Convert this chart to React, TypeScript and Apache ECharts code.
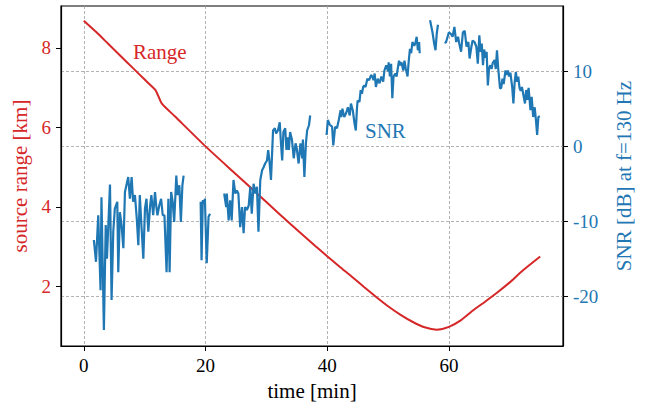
import React, { useEffect, useRef } from "react";
import * as echarts from "echarts";

const xTicks = [0, 20, 40, 60];
const rangeTicks = [2, 4, 6, 8];
const snrTicks = [-20, -10, 0, 10];

const rangeTime = [0, 2, 4, 6, 8, 10, 11.8, 12.8, 15, 20, 25, 27, 30, 34, 38, 42, 44, 46, 48, 50, 52, 54, 56, 58, 60, 62, 64, 66, 68, 70, 72, 75];
const rangeKm = [8.68, 8.4, 8.1, 7.8, 7.5, 7.2, 6.93, 6.6, 6.27, 5.52, 4.82, 4.54, 4.12, 3.56, 3.02, 2.5, 2.25, 1.99, 1.74, 1.5, 1.29, 1.11, 0.97, 0.91, 0.98, 1.15, 1.4, 1.62, 1.85, 2.1, 2.38, 2.75];

const snrTime = [
  1.65, 2.0, 2.37, 2.75, 2.9, 3.3, 3.6, 3.8, 4.3, 4.56, 4.84, 5.1, 5.5, 5.66, 5.93, 6.2, 6.5, 6.76, 7.0, 7.3, 7.57, 7.86, 8.1, 8.4, 8.7, 8.96, 9.2, 9.5, 9.78, 10.05, 10.3, 10.6, 10.9, 11.1, 11.4, 11.7, 11.9, 12.1, 12.4, 12.7, 12.97, 13.25, 13.6, 13.9, 14.1, 14.35, 14.6, 14.85, 15.2, 15.4, 15.7, 15.95, 16.2, 16.4,
  17.8,
  19.2, 19.35, 19.55, 19.8, 19.9, 20.2, 20.5, 20.75,
  22,
  23.07, 23.4, 23.5, 23.8, 24.05, 24.3, 24.6, 24.9, 25.15, 25.4, 25.7, 26.0, 26.26, 26.5, 26.8, 27.1, 27.36, 27.6, 27.9, 28.2, 28.45, 28.7, 29.0, 29.3, 29.55, 29.8, 30.1, 30.3, 30.5, 30.76, 31.1, 31.4, 31.6, 31.9, 32.2, 32.4, 32.6, 32.8, 33.1, 33.3, 33.5, 33.7, 33.9, 34.2, 34.5, 34.8, 35.0, 35.3, 35.6, 35.9, 36.0, 36.25, 36.5, 36.7, 37.0, 37.2,
  38.5,
  39.9, 40.1, 40.4, 40.8, 41.0, 41.3, 41.6, 41.9, 42.2, 42.3, 42.5, 42.8, 43.1, 43.4, 43.7, 43.9, 44.2, 44.5, 44.7, 44.9, 45.0, 45.3, 45.5, 45.7, 45.9, 46.1, 46.3, 46.6, 46.9, 47.2, 47.4, 47.6, 47.8, 48.0, 48.3, 48.6, 48.9, 49.2, 49.4, 49.7, 50.0, 50.1, 50.3, 50.5, 50.7, 50.9, 51.2, 51.4, 51.6, 51.8, 52.0, 52.2, 52.5, 52.7, 52.9, 53.2, 53.4, 53.6, 53.8, 54.0, 54.3, 54.5, 54.7, 54.9, 55.1, 55.2,
  56.0,
  56.9, 57.3, 57.6, 57.8, 58.0, 58.2,
  58.8,
  59.3, 59.5, 60.0, 60.3, 60.6, 60.9, 61.2, 61.5, 61.7, 62.0, 62.3, 62.6, 62.9, 63.2, 63.4, 63.7, 63.9, 64.2, 64.5, 64.75, 65.0, 65.2, 65.4, 65.6, 65.8, 66.0, 66.2, 66.4, 66.6, 66.8, 67.0, 67.2, 67.5, 67.7, 67.9, 68.1, 68.4, 68.6, 68.8, 69.0, 69.3, 69.5, 69.7, 69.9, 70.1, 70.4, 70.6, 70.8, 71.0, 71.2, 71.4, 71.6, 71.8, 72.0, 72.3, 72.5, 72.7, 72.9, 73.1, 73.4, 73.6, 73.85, 74.1, 74.3, 74.5, 74.7, 74.95,
];
const snrDb = [
  -12.5, -15.4, -9.2, -19.2, -6.8, -24.5, -10.5, -15.0, -5.1, -20.5, -11.4, -8.3, -7.4, -16.8, -8.8, -10.5, -13.6, -6.1, -5.2, -4.1, -7.0, -4.1, -7.4, -6.5, -9.6, -13.2, -6.5, -11.0, -15.0, -8.3, -7.0, -11.4, -7.9, -6.5, -9.2, -6.1, -7.9, -9.2, -7.9, -7.0, -9.2, -9.2, -16.8, -7.0, -16.8, -6.1, -7.4, -10.1, -3.9, -6.5, -5.2, -10.1, -5.2, -3.9,
  null,
  -7.4, -15.2, -7.2, -7.6, -7.0, -15.6, -9.4, -9.0,
  null,
  -6.3, -8.1, -6.3, -9.9, -7.2, -9.9, -4.5, -6.3, -5.9, -6.3, -10.8, -8.1, -11.6, -8.1, -8.5, -7.9, -5.4, -9.0, -5.0, -6.3, -5.4, -11.4, -4.5, -3.2, -2.8, -2.3, -1.9, -0.5, -1.9, -4.5, 2.1, 2.4, 1.7, 2.1, 3.2, 0.4, -1.9, 1.9, 2.4, -0.5, 1.2, -0.5, 1.9, 0.9, -1.6, 0.4, -0.3, -2.3, 0.4, -1.6, 0.9, -4.1, 0.4, 2.1, 2.8, 4.1,
  null,
  1.5, 3.5, 2.9, 2.6, 0.1, 2.6, 2.4, 3.5, 4.8, 3.9, 5.0, 3.9, 4.4, 5.2, 4.1, 5.7, 4.8, 3.0, 2.1, 5.2, 6.1, 5.9, 7.5, 7.0, 7.9, 8.1, 7.9, 9.0, 8.8, 9.5, 9.3, 8.8, 9.7, 7.9, 9.0, 8.4, 9.3, 8.6, 10.1, 10.8, 10.0, 11.2, 9.3, 11.0, 6.4, 9.3, 9.7, 9.3, 10.4, 11.4, 10.8, 11.2, 10.1, 11.4, 10.4, 9.3, 11.4, 13.0, 12.4, 13.9, 13.4, 13.8, 14.6, 12.8, 13.9, 12.4,
  null,
  16.8, 15.2, 13.6, 12.8, 15.0, 16.2,
  null,
  13.9, 13.8, 15.2, 15.0, 14.6, 15.9, 13.9, 14.6, 13.7, 12.6, 15.2, 15.4, 13.3, 13.9, 11.7, 13.3, 14.1, 13.9, 13.3, 11.0, 14.8, 12.6, 13.7, 10.8, 12.9, 11.8, 12.6, 8.1, 10.4, 10.8, 10.3, 11.1, 11.5, 10.3, 12.8, 10.4, 7.7, 7.8, 9.0, 8.3, 10.1, 9.5, 10.1, 9.3, 9.8, 7.9, 5.7, 8.5, 9.9, 8.6, 9.3, 7.8, 7.4, 7.9, 6.6, 5.7, 7.5, 6.2, 7.8, 4.8, 6.6, 3.9, 5.2, 3.5, 1.5, 3.9, 4.0,
];

const RED = "#d62728";
const BLUE = "#1f77b4";
const FONT = "'Liberation Serif', 'Times New Roman', 'DejaVu Serif', serif";
const TICK_FS = 19;
const LABEL_FS = 21;

export default function App() {
  const ref = useRef<HTMLDivElement>(null);
  useEffect(() => {
    if (!ref.current) return;
    const chart = echarts.init(ref.current, null, { renderer: "svg" });
    const gridLine = { show: true, lineStyle: { color: "#a0a0a0", width: 0.8, type: [3, 2] as any } };
    chart.setOption({
      animation: false,
      backgroundColor: "#fff",
      grid: { left: 61, top: 6, width: 502, height: 340, show: true, borderColor: "#000", borderWidth: 1.2, backgroundColor: "transparent" },
      xAxis: {
        type: "value",
        min: -3.75,
        max: 78.75,
        name: "time [min]",
        nameLocation: "middle",
        nameGap: 34,
        nameTextStyle: { color: "#000", fontSize: LABEL_FS, fontFamily: FONT },
        axisLine: { onZero: false, lineStyle: { color: "#000", width: 1.2 } },
        axisTick: { show: true, length: 5, lineStyle: { color: "#000" }, customValues: xTicks },
        axisLabel: { color: "#000", fontSize: TICK_FS, fontFamily: FONT, margin: 10, customValues: xTicks },
        splitLine: gridLine,
      },
      yAxis: [
        {
          type: "value",
          position: "left",
          min: 0.5,
          max: 9.05,
          name: "source range [km]",
          nameLocation: "middle",
          nameRotate: 90,
          nameGap: 30,
          nameTextStyle: { color: RED, fontSize: LABEL_FS, fontFamily: FONT },
          axisLine: { show: true, onZero: false, lineStyle: { color: "#000", width: 1.2 } },
          axisTick: { show: true, length: 5, lineStyle: { color: "#000" }, customValues: rangeTicks },
          axisLabel: { color: RED, fontSize: TICK_FS, fontFamily: FONT, margin: 10, customValues: rangeTicks },
          splitLine: { show: false },
        },
        {
          type: "value",
          position: "right",
          min: -26.63,
          max: 18.7,
          name: "SNR [dB] at f=130 Hz",
          nameLocation: "middle",
          nameRotate: 90,
          nameGap: 50,
          nameTextStyle: { color: BLUE, fontSize: LABEL_FS, fontFamily: FONT },
          axisLine: { show: true, onZero: false, lineStyle: { color: "#000", width: 1.2 } },
          axisTick: { show: true, length: 5, lineStyle: { color: "#000" }, customValues: snrTicks },
          axisLabel: { color: BLUE, fontSize: TICK_FS, fontFamily: FONT, margin: 10, customValues: snrTicks },
          splitLine: gridLine,
        },
      ],
      graphic: [
        { type: "text", x: 133, y: 52, style: { text: "Range", fill: RED, fontSize: LABEL_FS, fontFamily: FONT, verticalAlign: "middle" } },
        { type: "text", x: 365, y: 131, style: { text: "SNR", fill: BLUE, fontSize: LABEL_FS, fontFamily: FONT, verticalAlign: "middle" } },
      ],
      series: [
        {
          type: "line",
          yAxisIndex: 0,
          data: rangeTime.map((t, i) => [t, rangeKm[i]]),
          showSymbol: false,
          smooth: 0.2,
          lineStyle: { color: RED, width: 2 },
          itemStyle: { color: RED },
        },
        {
          type: "line",
          yAxisIndex: 1,
          data: snrTime.map((t, i) => [t, snrDb[i] === null ? "-" : snrDb[i]]),
          showSymbol: false,
          connectNulls: false,
          lineStyle: { color: BLUE, width: 2.2 },
          itemStyle: { color: BLUE },
        },
      ],
    });
    return () => chart.dispose();
  }, []);
  return <div ref={ref} style={{ width: 652, height: 408, position: "absolute", left: 0, top: 0 }} />;
}
